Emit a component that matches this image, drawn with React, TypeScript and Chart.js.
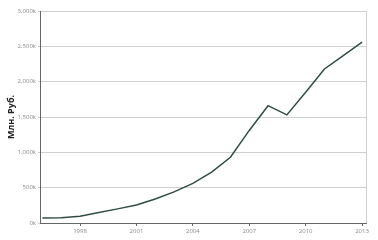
import React, { useEffect, useRef } from "react";
import { Chart, registerables } from "chart.js";

Chart.register(...registerables);

const years = [1996, 1997, 1998, 1999, 2000, 2001, 2002, 2003, 2004, 2005, 2006, 2007, 2008, 2009, 2010, 2011, 2012, 2013];
const values = [70000, 75000, 95000, 150000, 200000, 255000, 340000, 440000, 560000, 720000, 930000, 1310000, 1660000, 1530000, 1850000, 2180000, 2370000, 2560000];
const xTickYears = [1998, 2001, 2004, 2007, 2010, 2013];
const yAxisTitle = "Млн. Руб.";

const rightBorder = {
  id: "rightBorder",
  afterDraw(chart: any) {
    const { ctx, chartArea } = chart;
    ctx.save();
    ctx.strokeStyle = "#d0d0d0";
    ctx.lineWidth = 1;
    ctx.beginPath();
    ctx.moveTo(Math.round(chartArea.right) + 0.5, chartArea.top);
    ctx.lineTo(Math.round(chartArea.right) + 0.5, chartArea.bottom);
    ctx.stroke();
    ctx.restore();
  },
};

export default function App() {
  const ref = useRef<HTMLCanvasElement>(null);
  useEffect(() => {
    document.body.style.margin = "0";
    const chart = new Chart(ref.current!, {
      type: "line",
      data: {
        datasets: [
          {
            data: years.map((y, i) => ({ x: y, y: values[i] })),
            borderColor: "#2f4d43",
            borderWidth: 1.5,
            pointRadius: 0,
            tension: 0,
            fill: false,
          },
        ],
      },
      options: {
        animation: false,
        responsive: false,
        maintainAspectRatio: false,
        layout: { padding: { top: 11, right: 12, left: 0, bottom: 0 } },
        plugins: { legend: { display: false }, tooltip: { enabled: false } },
        scales: {
          x: {
            type: "linear",
            min: 1995.87,
            max: 2013.21,
            afterBuildTicks: (scale: any) => {
              scale.ticks = xTickYears.map((v) => ({ value: v }));
            },
            afterFit: (scale: any) => {
              scale.height = 17;
            },
            ticks: {
              callback: (v: any) => String(v),
              color: "#8a8a8a",
              font: { family: "Open Sans", size: 6 },
              padding: 2,
              maxRotation: 0,
              autoSkip: false,
            },
            grid: {
              drawOnChartArea: false,
              drawTicks: true,
              tickLength: 3,
              color: "#666666",
            },
            border: { color: "#666666", width: 1 },
          },
          y: {
            min: 0,
            max: 3000000,
            afterFit: (scale: any) => {
              scale.width = 40;
            },
            ticks: {
              stepSize: 500000,
              callback: (v: any) => (Number(v) / 1000).toLocaleString("en-US") + "k",
              color: "#8a8a8a",
              font: { family: "Open Sans", size: 6 },
              padding: 2,
            },
            grid: {
              color: "#cfcfcf",
              tickLength: 2,
              drawTicks: true,
            },
            border: { color: "#666666", width: 1 },
            title: {
              display: true,
              text: yAxisTitle,
              color: "#222222",
              font: { family: "Open Sans", size: 9, weight: "bold" },
              padding: { top: 6, bottom: 2 },
            },
          },
        },
      },
      plugins: [rightBorder],
    } as any);
    return () => chart.destroy();
  }, []);
  return (
    <div style={{ position: "absolute", left: 0, top: 0, width: 378, height: 240 }}>
      <canvas ref={ref} width={378} height={240} style={{ width: 378, height: 240, display: "block" }} />
    </div>
  );
}
